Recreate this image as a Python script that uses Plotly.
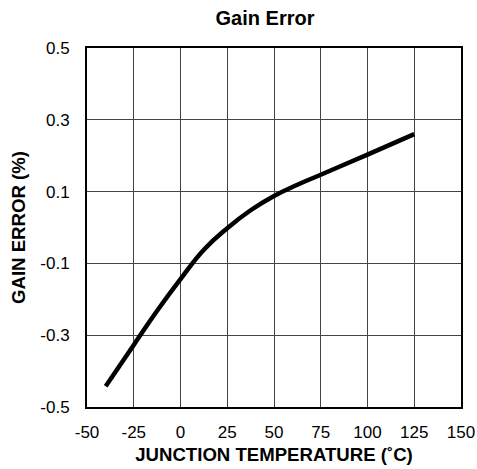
import plotly.graph_objects as go

temps = [-40, -25, -12.5, 0, 12.5, 25, 37.5, 50, 62.5, 75, 100, 125]
gain_error = [-0.442, -0.327, -0.232, -0.144, -0.062, -0.002, 0.048, 0.088, 0.119, 0.147, 0.203, 0.26]

x_ticks = [-50, -25, 0, 25, 50, 75, 100, 125, 150]
y_ticks = [-0.5, -0.3, -0.1, 0.1, 0.3, 0.5]
y_labels = ["-0.5", "-0.3", "-0.1", "0.1", "0.3", "0.5"]

fig = go.Figure()
fig.add_trace(go.Scatter(
    x=temps, y=gain_error, mode="lines",
    line=dict(color="black", width=4.5, shape="spline", smoothing=1.3),
    showlegend=False, hoverinfo="skip",
))

font_family = "Liberation Sans, Arial, sans-serif"
W, H = 477, 469
fig.update_layout(
    width=W, height=H,
    margin=dict(l=87, r=16, t=48, b=62),
    paper_bgcolor="white", plot_bgcolor="white",
    font=dict(family=font_family, size=17, color="black"),
    title=dict(text="<b>Gain Error</b>", x=265 / W, xanchor="center",
               y=1 - 18 / H, yanchor="middle", xref="container", yref="container",
               font=dict(size=20, family=font_family, color="black")),
)
fig.update_xaxes(
    range=[-50, 150], tickvals=x_ticks, ticktext=[str(v) for v in x_ticks],
    showgrid=True, gridcolor="#444", gridwidth=1,
    showline=True, linecolor="black", linewidth=2, mirror=True,
    ticks="", zeroline=False, ticklabelstandoff=9, automargin=False,
    tickfont=dict(size=17),
    title=dict(text="<b>JUNCTION TEMPERATURE (˚C)</b>", font=dict(size=18.6), standoff=7),
)
fig.update_yaxes(
    range=[-0.5, 0.5], tickvals=y_ticks, ticktext=y_labels,
    showgrid=True, gridcolor="#444", gridwidth=1,
    showline=True, linecolor="black", linewidth=2, mirror=True,
    ticks="", zeroline=False, ticklabelstandoff=12, automargin=False,
    tickfont=dict(size=17),
    title=dict(text="<b>GAIN ERROR (%)</b>", font=dict(size=18.6), standoff=10),
)

fig.write_html("out.html", config={"displayModeBar": False},
               post_script="document.body.style.margin='0';")
